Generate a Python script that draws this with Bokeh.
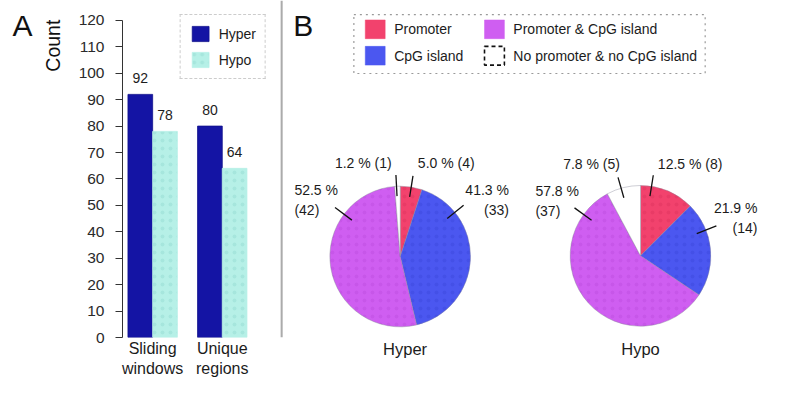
import math
from bokeh.plotting import figure
from bokeh.layouts import row
from bokeh.models import Range1d, FixedTicker, Legend, LegendItem, ColumnDataSource
from bokeh.embed import file_html
from bokeh.resources import INLINE
from bokeh.core.properties import value

# ---------------- data ----------------
bar_groups = ["Sliding windows", "Unique regions"]
bar_group_labels = ["Sliding\nwindows", "Unique\nregions"]
hyper_counts = [92, 80]
hypo_counts = [78, 64]
count_ticks = [0, 10, 20, 30, 40, 50, 60, 70, 80, 90, 100, 110, 120]
bar_series = ["Hyper", "Hypo"]
count_label = "Count"
panel_letters = ["A", "B"]

pie_categories = ["Promoter", "CpG island", "Promoter & CpG island", "No promoter & no CpG island"]
pie_titles = ["Hyper", "Hypo"]
hyper_pie_counts = [4, 33, 42, 1]
hypo_pie_counts = [8, 14, 37, 5]
hyper_pie_labels = ["5.0 % (4)", "41.3 %\n(33)", "52.5 %\n(42)", "1.2 % (1)"]
hypo_pie_labels = ["12.5 % (8)", "21.9 %\n(14)", "57.8 %\n(37)", "7.8 % (5)"]

# ---------------- style / geometry ----------------
FONT = "Liberation Sans"
TXT = "#1c1c1c"
HYPER_COLOR = "#1414a4"
HYPO_COLOR = "#b6f0e7"
PIE_COLORS = ["#f2426d", "#4b57f0", "#cf5ef1", "#ffffff"]
PIE_HATCH = ["#c8204c", "#2a36c8", "#a83ccc", "#ffffff"]

SX = 771 / 787
SY = 391 / 407
W0, W_L, W_R, H = 70, 210, 491, 391   # W0 + W_L = 280
BORDER_B = 54
FRAME_H = H - BORDER_B


def common(fig):
    fig.grid.visible = False
    fig.outline_line_color = None
    fig.background_fill_color = "white"
    fig.border_fill_color = "white"


# ---------------- panel A: letter + axis title strip ----------------
p0 = figure(width=W0, height=H, x_range=Range1d(0, W0), y_range=Range1d(BORDER_B, H),
            output_backend="svg", toolbar_location=None,
            min_border_left=0, min_border_right=0, min_border_top=0, min_border_bottom=BORDER_B,
            x_axis_location=None, y_axis_location=None)
common(p0)
p0.text(x=[22.5 * SX], y=[H - 26 * SY], text=[panel_letters[0]], text_align="center",
        text_baseline="middle", text_font=value(FONT), text_font_size="30px", text_color="#111111")
p0.text(x=[54 * SX], y=[H - 47 * SY], text=[count_label], angle=math.pi / 2,
        text_align="center", text_baseline="middle",
        text_font=value(FONT), text_font_size="19.5px", text_color="#111111")

# ---------------- panel A: bar chart ----------------
BORDER_L = 122 - W0
FRAME_W = W_L - BORDER_L
PPU = (FRAME_H - 20.7 * SY) / 120.0
Y_MAX = FRAME_H / PPU
BAR_PX = 25.2 * SX
GAP = 0.82
centers = [2 + i * (2 + GAP) for i in range(len(bar_groups))]
X_START = 2 - (155.3 * SX - 122) / BAR_PX
X_END = X_START + FRAME_W / BAR_PX

pa = figure(width=W_L, height=H, x_range=Range1d(X_START, X_END), y_range=Range1d(0, Y_MAX),
            output_backend="svg", toolbar_location=None,
            min_border_left=BORDER_L, min_border_right=0, min_border_top=0, min_border_bottom=BORDER_B)
common(pa)

src = ColumnDataSource(dict(
    xh=[c - 0.5 for c in centers], xo=[c + 0.5 for c in centers],
    hyper=hyper_counts, hypo=hypo_counts,
    th=[str(v) for v in hyper_counts], to=[str(v) for v in hypo_counts],
))
r_hyper = pa.vbar(x="xh", top="hyper", bottom=0, width=1, source=src,
                  fill_color=HYPER_COLOR, line_color="#10108c", line_width=0.8)
r_hypo = pa.vbar(x="xo", top="hypo", bottom=0, width=1, source=src,
                 fill_color=HYPO_COLOR, line_color=HYPO_COLOR, line_width=0.8,
                 hatch_pattern="dot", hatch_color="#8fd8cc", hatch_scale=8, hatch_weight=1.2,
                 hatch_alpha=0.4)
for xcol, ycol, tcol in (("xh", "hyper", "th"), ("xo", "hypo", "to")):
    pa.text(x=xcol, y=ycol, text=tcol, source=src, text_align="center", text_baseline="bottom",
            y_offset=-11, text_font=value(FONT), text_font_size="14px", text_color=TXT)

ya = pa.yaxis[0]
ya.ticker = FixedTicker(ticks=count_ticks)
ya.bounds = (0, 120)
ya.minor_tick_line_color = None
ya.major_tick_in = 0
ya.major_tick_out = 7
ya.major_label_standoff = 11
ya.axis_line_color = "#333333"
ya.major_tick_line_color = "#333333"
ya.major_label_text_font = FONT
ya.major_label_text_font_size = "15.5px"
ya.major_label_text_color = "#2a2a2a"

xa = pa.xaxis[0]
xa.ticker = FixedTicker(ticks=centers)
xa.major_label_overrides = {c: lab for c, lab in zip(centers, bar_group_labels)}
xa.axis_line_color = None
xa.major_tick_line_color = None
xa.minor_tick_line_color = None
xa.major_tick_in = 0
xa.major_tick_out = 0
xa.major_label_standoff = 2
xa.major_label_text_font = FONT
xa.major_label_text_font_size = "16px"
xa.major_label_text_color = TXT

leg = Legend(items=[LegendItem(label=bar_series[0], renderers=[r_hyper]),
                    LegendItem(label=bar_series[1], renderers=[r_hypo])],
             location="top_right", margin=14, padding=9, spacing=7,
             glyph_width=21, glyph_height=19, label_standoff=8,
             label_text_font=FONT, label_text_font_size="14px", label_text_color=TXT,
             border_line_color="#9a9a9a", border_line_dash="dotted", border_line_width=1.2,
             background_fill_color="white")
pa.add_layout(leg)

# ---------------- panel B ----------------
pb = figure(width=W_R, height=H, x_range=Range1d(0, W_R), y_range=Range1d(BORDER_B, H),
            output_backend="svg", toolbar_location=None,
            min_border_left=0, min_border_right=0, min_border_top=0, min_border_bottom=BORDER_B,
            y_axis_location=None)
common(pb)


def rx(ref_x):
    return ref_x * SX - (W0 + W_L)


def ry(ref_y):
    return H - ref_y * SY


# divider between panels
pb.segment(x0=[rx(286.8)], y0=[BORDER_B], x1=[rx(286.8)], y1=[H], line_color="#ababab", line_width=2.4)

pb.text(x=[rx(309)], y=[ry(26)], text=[panel_letters[1]], text_align="center", text_baseline="middle",
        text_font=value(FONT), text_font_size="30px", text_color="#111111")

# legend of panel B
pb.quad(left=[rx(360.7)], right=[rx(719.3)], top=[ry(14.7)], bottom=[ry(76)],
        fill_color="white", line_color="#9a9a9a", line_dash="dotted", line_width=1.2)
LEG_CELLS = [(372.3, 30), (372.3, 57.5), (494.0, 30), (494.0, 57.5)]
for k, (cx_ref, cy_ref) in enumerate(LEG_CELLS):
    sw_w = 20.3 * SX
    sw_h = 19.5 * SY
    if k == 3:
        pb.rect(x=[rx(cx_ref + 10.2)], y=[ry(cy_ref)], width=sw_w, height=sw_h,
                fill_color="white", line_color="#111111", line_dash="4 3", line_width=1.6)
    else:
        pb.rect(x=[rx(cx_ref + 10.2)], y=[ry(cy_ref)], width=sw_w, height=sw_h,
                fill_color=PIE_COLORS[k], line_color=PIE_COLORS[k], line_width=0.5)
    pb.text(x=[rx(cx_ref + 29.5)], y=[ry(cy_ref)], text=[pie_categories[k]],
            text_align="left", text_baseline="middle",
            text_font=value(FONT), text_font_size="14px", text_color=TXT)

# pies
PIE_CENTERS_REF = [(408.0, 266.5), (653.3, 265.8)]
TITLE_X_REF = [413.0, 653.3]
PIE_R = 72.5 * (SX + SY) / 2
LEADER_ANGLES = [[81, 39, 143, 93], [81, 21.6, 144, 106]]
LABEL_OFFSETS = [
    [(18, -97.5, "left"), (111, -58.5, "right"), (-108, -58.5, "left"), (-8.7, -97.5, "right")],
    [(17.7, -95.5, "left"), (119.4, -39.6, "right"), (-107.3, -57.5, "left"), (-21, -95.5, "right")],
]
pie_counts = [hyper_pie_counts, hypo_pie_counts]
pie_labels = [hyper_pie_labels, hypo_pie_labels]

for pi_, (counts, labels) in enumerate(zip(pie_counts, pie_labels)):
    cxr, cyr = PIE_CENTERS_REF[pi_]
    cx, cy = rx(cxr), ry(cyr)
    total = float(sum(counts))
    cum = 0.0
    starts, ends = [], []
    for v in counts:
        a0 = 90 - 360 * cum / total
        cum += v
        a1 = 90 - 360 * cum / total
        starts.append(math.radians(a0))
        ends.append(math.radians(a1))
    wsrc = ColumnDataSource(dict(x=[cx] * len(counts), y=[cy] * len(counts),
                                 start=starts, end=ends, color=PIE_COLORS[:len(counts)],
                                 hatch=PIE_HATCH[:len(counts)],
                                 cat=pie_categories[:len(counts)], n=counts))
    pb.wedge(x="x", y="y", radius=PIE_R, start_angle="start", end_angle="end", direction="clock",
             fill_color="color", line_color="#8a8a9a", line_width=0.6, line_alpha=0.7,
             hatch_pattern="dot", hatch_color="hatch", hatch_scale=8, hatch_weight=1.2,
             hatch_alpha=0.22, source=wsrc)
    x0s, y0s, x1s, y1s = [], [], [], []
    for ang in LEADER_ANGLES[pi_]:
        a = math.radians(ang)
        x0s.append(cx + 0.86 * PIE_R * math.cos(a))
        y0s.append(cy + 0.86 * PIE_R * math.sin(a))
        x1s.append(cx + 1.16 * PIE_R * math.cos(a))
        y1s.append(cy + 1.16 * PIE_R * math.sin(a))
    pb.segment(x0=x0s, y0=y0s, x1=x1s, y1=y1s, line_color="#111111", line_width=1.3)
    for lab, (dx, dy, al) in zip(labels, LABEL_OFFSETS[pi_]):
        pb.text(x=[rx(cxr + dx)], y=[ry(cyr + dy)], text=[lab], text_align=al,
                text_baseline="middle", text_line_height=1.25,
                text_font=value(FONT), text_font_size="14px", text_color=TXT)

# pie titles as labels of the x axis under the pies
title_ticks = [rx(t) for t in TITLE_X_REF]
xb = pb.xaxis[0]
xb.ticker = FixedTicker(ticks=title_ticks)
xb.major_label_overrides = {t: lab for t, lab in zip(title_ticks, pie_titles)}
xb.axis_line_color = None
xb.major_tick_line_color = None
xb.minor_tick_line_color = None
xb.major_tick_in = 0
xb.major_tick_out = 0
xb.major_label_standoff = 2
xb.major_label_text_font = FONT
xb.major_label_text_font_size = "16.5px"
xb.major_label_text_color = TXT

layout = row(p0, pa, pb)
open("out.html", "w").write(file_html(layout, INLINE))
